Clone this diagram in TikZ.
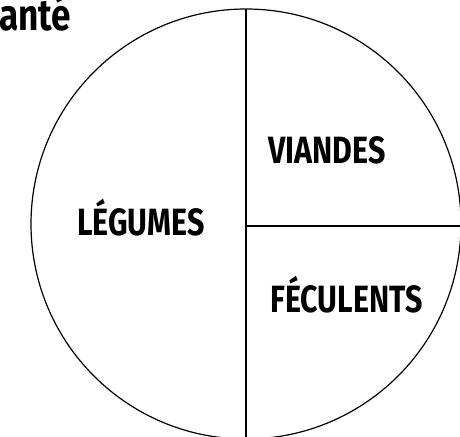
\documentclass[tikz,border=0pt]{standalone}
\usepackage{fontspec}
\newfontfamily\labfont[FakeStretch=0.8]{Fira Sans}
\begin{document}
\begin{tikzpicture}[x=1pt,y=-1pt,
  lab/.style={font=\labfont\bfseries\fontsize{38}{38}\selectfont, inner sep=0pt, anchor=base west},
  ttl/.style={font=\labfont\bfseries\fontsize{44}{44}\selectfont, inner sep=0pt, anchor=base west},
  part/.style={line width=1.2pt, black}]
\useasboundingbox (0,0) rectangle (460,436);
\clip (0,0) rectangle (460,436);
\coordinate (c) at (246,224);
\draw[part] (c) circle[radius=215];
\coordinate (top) at (246,9);
\coordinate (bot) at (246,440);
\draw[part] (top) -- (bot);
\coordinate (hl) at (246,226);
\coordinate (hr) at (461,226);
\draw[part] (hl) -- (hr);
\node[ttl] (t) at (-1,31) {anté};
\node[lab] (leg) at (77,235) {LÉGUMES};
\node[lab] (via) at (268,163) {VIANDES};
\node[lab] (fec) at (270,312) {FÉCULENTS};
\end{tikzpicture}
\end{document}
